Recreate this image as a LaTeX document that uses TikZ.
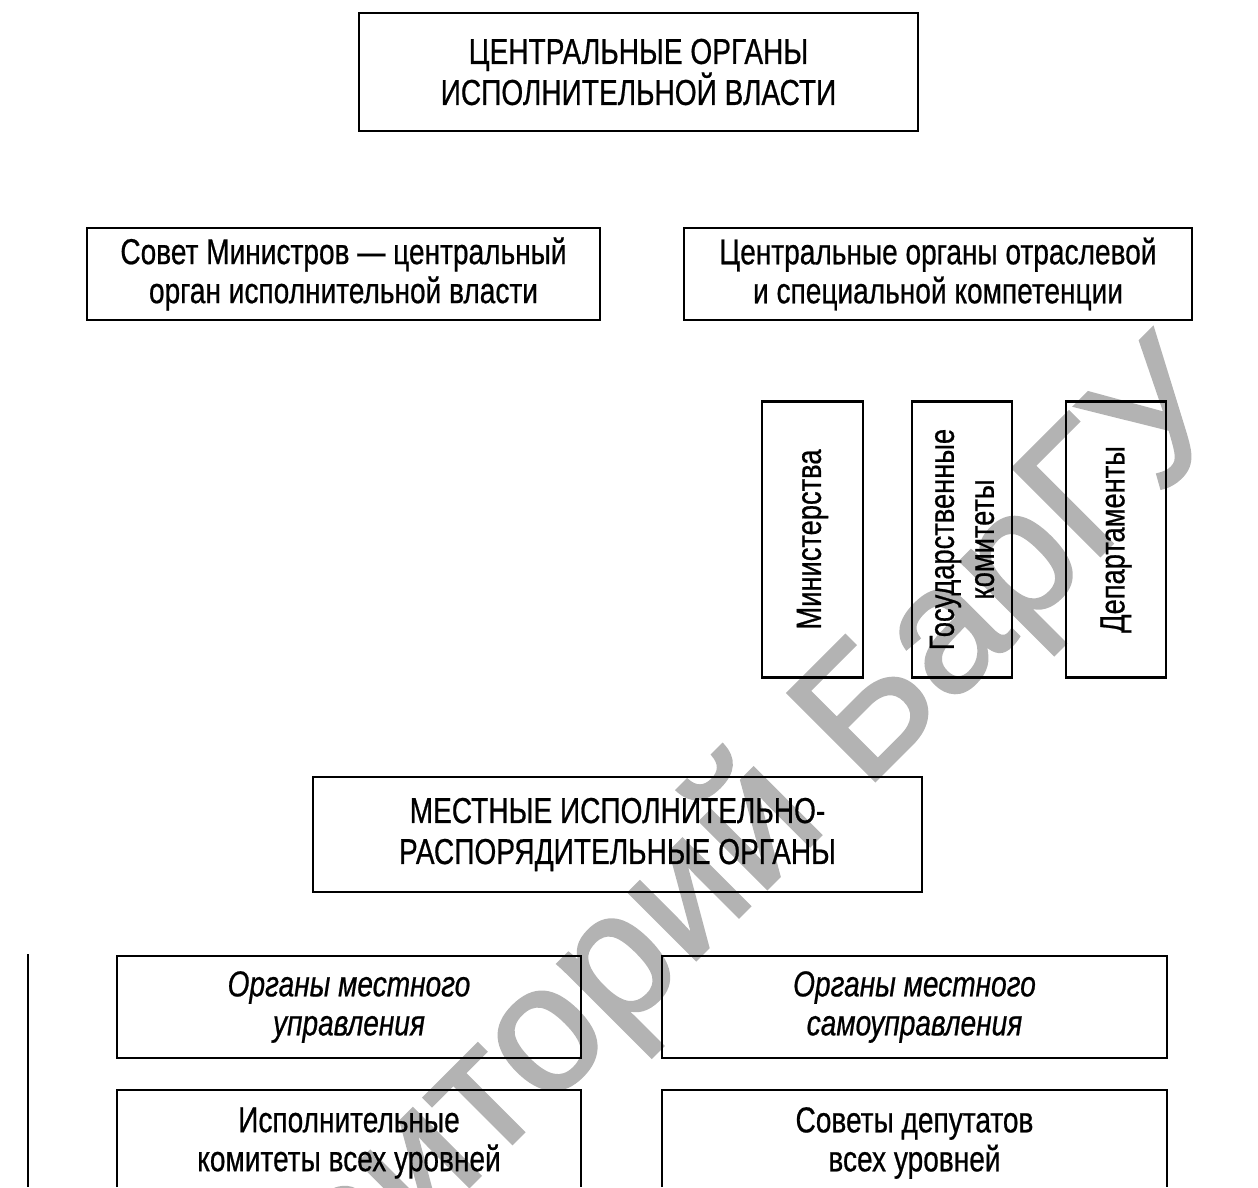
\documentclass[tikz,border=0pt]{standalone}
\usepackage{fontspec}
\setmainfont{Liberation Sans}
\newfontfamily\txtfont[FakeStretch=0.78,FakeBold=0.6]{Liberation Sans}
\newfontfamily\wmfamily[FakeBold=1.5]{Liberation Sans}
\definecolor{wmgray}{HTML}{B3B3B3}
\begin{document}
\begin{tikzpicture}[x=1pt,y=-1pt,
  frame/.style={draw, line width=2.6pt, inner sep=0pt, align=center},
  titletext/.style={font=\txtfont\fontsize{36}{41}\selectfont},
  bodytext/.style={font=\txtfont\fontsize{36}{39}\selectfont},
  italtext/.style={font=\txtfont\itshape\fontsize{36}{39}\selectfont},
  verttext/.style={font=\txtfont\fontsize{35}{40}\selectfont},
  plainline/.style={line width=2.6pt},
  watermark/.style={text=wmgray, inner sep=0pt, font=\wmfamily\fontsize{180}{180}\selectfont}]
\useasboundingbox (0,0) rectangle (1258,1187);
\clip (0,0) rectangle (1258,1187);
% watermark
\node[watermark, rotate=45, anchor=base east] (wm) at (1240,416) {Репозиторий БарГУ};
% top
\node[frame, titletext, minimum width=559pt, minimum height=118pt] (central) at (638.5,72)
  {ЦЕНТРАЛЬНЫЕ ОРГАНЫ\\ИСПОЛНИТЕЛЬНОЙ ВЛАСТИ};
\node[frame, bodytext, minimum width=513pt, minimum height=92pt] (sovmin) at (343.5,274)
  {Совет Министров — центральный\\орган исполнительной власти};
\node[frame, bodytext, minimum width=508pt, minimum height=92pt] (otrasl) at (938,274)
  {Центральные органы отраслевой\\и специальной компетенции};
% vertical boxes
\node[frame, verttext, rotate=90, minimum width=276pt, minimum height=101pt] (minist) at (812.5,539.5)
  {Министерства};
\node[frame, verttext, rotate=90, minimum width=276pt, minimum height=100pt] (goskom) at (962,539.5)
  {Государственные\\комитеты};
\node[frame, verttext, rotate=90, minimum width=276pt, minimum height=100pt] (depart) at (1116,539.5)
  {Департаменты};
% local
\node[frame, titletext, minimum width=609pt, minimum height=115pt] (mestnye) at (617.5,834.5)
  {МЕСТНЫЕ ИСПОЛНИТЕЛЬНО-\\РАСПОРЯДИТЕЛЬНЫЕ ОРГАНЫ};
\node[frame, italtext, minimum width=464pt, minimum height=102pt] (upr) at (349,1007)
  {Органы местного\\управления};
\node[frame, italtext, minimum width=505pt, minimum height=102pt] (samoupr) at (914.5,1007)
  {Органы местного\\самоуправления};
% bottom boxes (cut off by the page edge)
\coordinate (ispL) at (117,1187);
\coordinate (ispR) at (581,1187);
\coordinate (sovL) at (662,1187);
\coordinate (sovR) at (1167,1187);
\draw[plainline] (ispL) |- (581,1090) -- (ispR);
\draw[plainline] (sovL) |- (1167,1090) -- (sovR);
\node[bodytext, align=center, inner sep=0pt] (ispolkom) at (349,1143)
  {Исполнительные\\комитеты всех уровней};
\node[bodytext, align=center, inner sep=0pt] (sovdep) at (914.5,1143)
  {Советы депутатов\\всех уровней};
% left vertical line
\coordinate (vlA) at (28,954);
\coordinate (vlB) at (28,1187);
\draw[plainline] (vlA) -- (vlB);
\end{tikzpicture}
\end{document}
